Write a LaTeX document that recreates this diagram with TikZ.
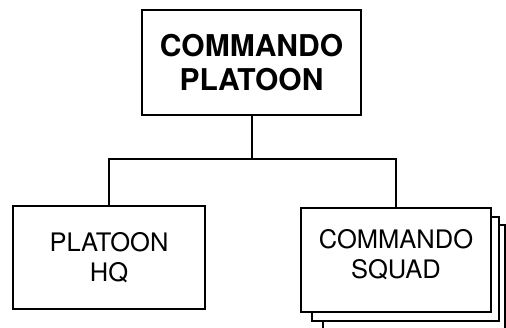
\documentclass[tikz,border=0pt]{standalone}
\usepackage{fontspec}
\setmainfont{TeX Gyre Heros}
\begin{document}
\begin{tikzpicture}[x=1pt,y=-1pt,
  box/.style={draw, line width=2pt, fill=white, inner sep=0pt, align=center},
  conn/.style={line width=2pt},
  bigfont/.style={font=\fontsize{30}{34}\selectfont\bfseries},
  smallfont/.style={font=\fontsize{25.5}{30}\selectfont}]
\useasboundingbox (0,0) rectangle (506,327);
\clip (0,0) rectangle (506,327);
% top unit
\node[box, bigfont, minimum width=219pt, minimum height=105pt] (top) at (251.5,62.5) {COMMANDO\\PLATOON};
% platoon HQ
\node[box, smallfont, minimum width=192pt, minimum height=103pt] (hq) at (109,257.5) {PLATOON\\HQ};
% stacked squads
\node[box, minimum width=182pt, minimum height=106pt] (sq3) at (414,278) {};
\node[box, minimum width=187pt, minimum height=104pt] (sq2) at (405.5,269) {};
\node[box, smallfont, minimum width=190pt, minimum height=104pt] (sq) at (396,260) {COMMANDO\\SQUAD\\[-18pt]\mbox{}};
% connectors
\draw[conn] (top.south) -- ++(0,43) coordinate (j);
\draw[conn] (hq.north) |- (j) -| (sq.north);
\end{tikzpicture}
\end{document}
